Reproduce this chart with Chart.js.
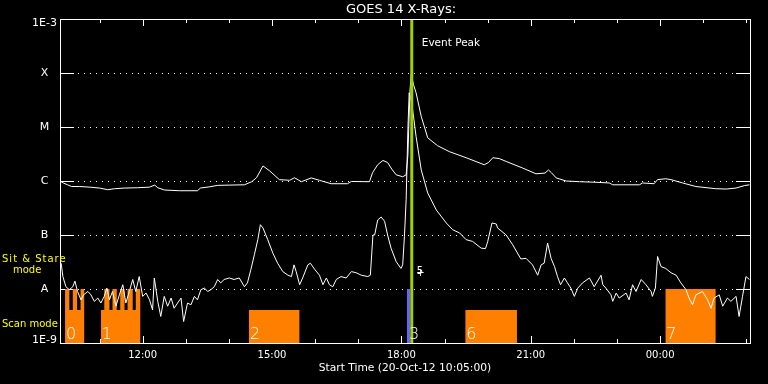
<!DOCTYPE html>
<html><head><meta charset="utf-8">
<script src="https://cdn.jsdelivr.net/npm/chart.js@4.4.1/dist/chart.umd.min.js"></script>
<style>html,body{margin:0;padding:0;background:#000;overflow:hidden}#wrap{width:768px;height:384px;position:relative}</style>
</head><body><div id="wrap"><canvas id="c" width="768" height="384"></canvas></div>
<script>
// ---- data (time in decimal hours from 20-Oct-12 00:00; >24 = next day) ----
const startHour = 10 + 5/60;
const endHour = 26 + 5/60;

const upperTimes = [10.10,10.17,10.26,10.35,10.54,10.77,11.00,11.19,11.35,11.58,
  11.88,12.16,12.28,12.35,12.51,12.86,13.27,13.34,13.55,13.74,
  14.02,14.36,14.53,14.64,14.79,14.94,15.17,15.41,15.52,15.68,
  15.91,16.10,16.37,16.75,16.84,17.26,17.33,17.45,17.57,17.68,
  17.79,17.88,18.03,18.11,18.15,18.20,18.23,18.28,18.34,18.46,18.61,
  18.84,19.11,19.50,19.92,20.02,20.12,20.27,20.43,20.81,21.12,
  21.33,21.41,21.48,21.59,21.82,22.13,22.47,22.82,22.90,23.52,
  23.59,23.86,23.94,24.13,24.25,24.52,24.83,25.29,25.53,25.76,
  25.95,26.07];
const upperFlux = [9.8e-7,9.1e-7,8.5e-7,7.9e-7,7.9e-7,7.7e-7,7.4e-7,6.9e-7,7.2e-7,7.4e-7,
  7.5e-7,7.7e-7,8.4e-7,7.5e-7,6.8e-7,6.6e-7,6.6e-7,7.4e-7,7.8e-7,8.3e-7,
  8.4e-7,8.5e-7,9.7e-7,1.15e-6,1.9e-6,1.55e-6,1.06e-6,1.03e-6,1.15e-6,9.7e-7,
  1.14e-6,1.03e-6,8.9e-7,8.9e-7,9.8e-7,9.7e-7,1.42e-6,2.0e-6,2.4e-6,2.2e-6,
  1.6e-6,1.3e-6,1.2e-6,1.3e-6,3.0e-6,5.0e-5,9.3e-5,6.1e-5,4.3e-5,1.57e-5,6.3e-6,
  4.5e-6,3.5e-6,2.7e-6,2.0e-6,2.2e-6,2.7e-6,2.6e-6,2.3e-6,1.74e-6,1.36e-6,
  1.4e-6,1.6e-6,1.42e-6,1.14e-6,1.0e-6,9.7e-7,9.5e-7,9.2e-7,8.5e-7,8.5e-7,
  9.2e-7,8.9e-7,1.06e-6,1.1e-6,1.06e-6,9.2e-7,7.9e-7,7.2e-7,7.1e-7,7.4e-7,
  8.2e-7,8.5e-7];

const lowerTimes = [10.11,10.15,10.22,10.30,10.38,10.43,10.49,10.57,10.63,10.73,
  10.80,10.88,10.96,11.03,11.11,11.17,11.23,11.30,11.38,11.46,
  11.54,11.61,11.69,11.77,11.84,11.92,12.00,12.08,12.16,12.23,
  12.27,12.35,12.42,12.50,12.58,12.66,12.73,12.81,12.89,12.95,
  13.04,13.12,13.20,13.27,13.35,13.43,13.51,13.58,13.66,13.74,
  13.81,13.89,14.01,14.12,14.24,14.36,14.43,14.51,14.59,14.67,
  14.73,14.79,14.90,15.02,15.13,15.25,15.37,15.45,15.51,15.56,
  15.64,15.71,15.83,15.89,15.99,16.10,16.18,16.26,16.33,16.41,
  16.49,16.60,16.72,16.84,16.95,17.07,17.22,17.28,17.34,17.38,
  17.45,17.53,17.61,17.68,17.76,17.88,17.99,18.03,18.07,18.11,
  18.15,18.18,18.24,18.34,18.46,18.61,18.81,19.04,19.19,19.35,
  19.50,19.65,19.85,19.95,20.00,20.10,20.20,20.23,20.43,20.58,
  20.77,20.89,21.04,21.16,21.24,21.31,21.39,21.47,21.55,21.62,
  21.69,21.78,21.85,21.93,22.01,22.09,22.20,22.36,22.47,22.63,
  22.67,22.74,22.86,22.90,22.98,23.05,23.21,23.28,23.36,23.44,
  23.56,23.67,23.79,23.82,23.89,23.94,24.02,24.13,24.25,24.37,
  24.48,24.60,24.67,24.75,24.83,24.98,25.10,25.18,25.25,25.37,
  25.45,25.56,25.64,25.76,25.83,25.91,25.99,26.07];
const lowerFlux = [3.0e-8,1.7e-8,1.1e-8,9.7e-9,1.1e-8,1.4e-8,9.0e-9,6.3e-9,7.8e-9,9.0e-9,
  7.8e-9,5.9e-9,6.8e-9,5.5e-9,7.3e-9,1.04e-8,6.3e-9,9.0e-9,4.8e-9,7.8e-9,
  1.2e-8,5.5e-9,9.0e-9,1.5e-8,9.0e-9,1.7e-8,7.3e-9,8.4e-9,6.3e-9,4.1e-9,
  1.6e-8,5.9e-9,3.1e-9,7.3e-9,4.8e-9,6.8e-9,4.4e-9,5.5e-9,6.8e-9,2.5e-9,
  5.5e-9,5.1e-9,7.3e-9,6.3e-9,9.7e-9,1.04e-8,9.0e-9,9.7e-9,1.1e-8,1.5e-8,
  1.3e-8,1.5e-8,1.6e-8,1.5e-8,1.6e-8,1.1e-8,1.3e-8,2.3e-8,4.3e-8,8.2e-8,
  1.55e-7,1.35e-7,8.2e-8,4.6e-8,3.0e-8,2.1e-8,1.8e-8,1.7e-8,2.8e-8,2.1e-8,
  1.2e-8,1.6e-8,2.8e-8,3.0e-8,2.3e-8,1.8e-8,1.2e-8,1.6e-8,1.2e-8,1.1e-8,
  1.5e-8,1.7e-8,1.6e-8,2.1e-8,2.0e-8,1.8e-8,1.7e-8,1.8e-8,1.0e-7,1.0e-7,
  1.9e-7,2.15e-7,1.8e-7,1.0e-7,5.7e-8,3.2e-8,2.4e-8,2.8e-8,9.4e-8,4.5e-7,
  8.9e-6,4.3e-5,2.8e-5,6.7e-6,1.6e-6,6.0e-7,2.9e-7,1.67e-7,1.25e-7,1.09e-7,
  8.2e-8,7.6e-8,5.7e-8,5.6e-8,7.5e-8,1.67e-7,1.6e-7,1.35e-7,1.0e-7,6.6e-8,
  3.6e-8,3.7e-8,2.8e-8,1.8e-8,2.8e-8,3.0e-8,7.1e-8,3.7e-8,2.6e-8,1.7e-8,
  1.2e-8,1.6e-8,1.3e-8,1.04e-8,7.3e-9,1.04e-8,1.3e-8,1.6e-8,1.1e-8,1.8e-8,
  1.2e-8,1.04e-8,7.8e-9,5.9e-9,8.4e-9,6.8e-9,8.4e-9,6.3e-9,1.2e-8,9.0e-9,
  1.5e-8,1.2e-8,9.0e-9,7.3e-9,1.04e-8,4.0e-8,2.6e-8,2.4e-8,2.0e-8,1.8e-8,
  1.3e-8,9.7e-9,6.8e-9,5.1e-9,7.8e-9,9.0e-9,6.3e-9,4.4e-9,6.8e-9,7.8e-9,
  4.8e-9,6.8e-9,5.9e-9,7.3e-9,3.1e-9,7.3e-9,1.7e-8,1.5e-8];

// observing-mode segments (S = sit & stare, C = scan)
const modeStart = [10.20,10.30,10.38,10.48,10.56, 11.03,11.11,11.23,11.30,11.40,11.48,11.58,11.65,11.77,11.84, 14.46, 19.48, 24.12];
const modeEnd   = [10.30,10.38,10.48,10.56,10.65, 11.11,11.23,11.30,11.40,11.48,11.58,11.65,11.77,11.84,11.95, 15.64, 20.68, 25.29];
const modeKind  = ['S','C','S','C','S', 'C','S','C','S','C','S','C','S','C','S', 'C', 'C', 'S'];
const stareStart = [18.13];
const stareEnd   = [18.20];
const stareKind  = ['S'];
const MODE_LEVEL = { S: 1e-8, C: 4.1e-9 };

const blockLabels = ['0','1','2','3','6','7'];
const blockLabelTimes = [10.20, 11.03, 14.46, 18.15, 19.48, 24.12];

const peakHour = 18.24;
const markerFlux = 2.1e-8;

const yTickValues = [1e-9,1e-8,1e-7,1e-6,1e-5,1e-4,1e-3];
const yTickLabels = ['1E-9','A','B','C','M','X','1E-3'];
const xMinorHours = [11,12,13,14,15,16,17,18,19,20,21,22,23,24,25,26];
const xMajorHours = [12,15,18,21,24];
const xTickLabels = ['12:00','15:00','18:00','21:00','00:00'];
const titleText = 'GOES 14 X-Rays:';
const xTitleText = 'Start Time (20-Oct-12 10:05:00)';

// ---- helpers ----
const pts = (ts, vs) => ts.map((t,i)=>({x:t, y:vs[i]}));
// contiguous segments -> one outline (with vertical steps) per block
function modeGroups(starts, ends, kinds){
  const groups=[]; let cur=null;
  for(let i=0;i<starts.length;i++){
    const lvl=MODE_LEVEL[kinds[i]];
    if(!cur || Math.abs(starts[i]-ends[i-1])>1e-6){ cur=[]; groups.push(cur); }
    cur.push({x:starts[i],y:lvl}); cur.push({x:ends[i],y:lvl});
  }
  return groups;
}
function blockDatasets(starts, ends, kinds, color, order){
  return modeGroups(starts,ends,kinds).map(g=>({data:g,fill:'start',backgroundColor:color,borderWidth:0,pointRadius:0,tension:0,order:order}));
}
const FONT='"DejaVu Sans", sans-serif';
function txt(ctx,s,x,y,size,color,align,base,ls,weight){
  ctx.save();
  ctx.font=(weight||'normal')+' '+size+'px '+FONT;
  ctx.fillStyle=color; ctx.textAlign=align||'center'; ctx.textBaseline=base||'middle';
  if(ls) ctx.letterSpacing=ls+'px';
  ctx.fillText(s,x,y);
  ctx.restore();
}

const goesPlugin={
  id:'goes',
  beforeDraw(chart){const c=chart.ctx;c.save();c.fillStyle='#000';c.fillRect(0,0,chart.width,chart.height);c.restore();},
  beforeDatasetsDraw(chart){
    const {ctx,chartArea:a,scales:{x,y}}=chart;
    ctx.save(); ctx.strokeStyle='#fff'; ctx.lineWidth=1;
    yTickValues.forEach((v,i)=>{
      const py=Math.round(y.getPixelForValue(v))+0.5;
      ctx.setLineDash([]);
      ctx.beginPath(); ctx.moveTo(a.left,py); ctx.lineTo(a.left+14,py);
      ctx.moveTo(a.right-14,py); ctx.lineTo(a.right,py); ctx.stroke();
      if(i>0 && i<yTickValues.length-1){
        ctx.setLineDash([1,5]);
        ctx.beginPath(); ctx.moveTo(a.left+18,py); ctx.lineTo(a.right-14,py); ctx.stroke();
      }
    });
    ctx.setLineDash([]);
    xMinorHours.forEach(h=>{
      const px=Math.round(x.getPixelForValue(h))+0.5;
      const len=xMajorHours.includes(h)?7:4;
      ctx.beginPath(); ctx.moveTo(px,a.top); ctx.lineTo(px,a.top+len);
      ctx.moveTo(px,a.bottom); ctx.lineTo(px,a.bottom-len); ctx.stroke();
    });
    ctx.restore();
  },
  afterDatasetsDraw(chart){
    const {ctx,chartArea:a,scales:{x,y}}=chart;
    ctx.save(); ctx.strokeStyle='#fff'; ctx.lineWidth=1;
    ctx.strokeRect(a.left+0.5,a.top+0.5,a.right-a.left,a.bottom-a.top);
    ctx.restore();
    txt(ctx,titleText,(a.left+a.right)/2-4,9.5,13,'#fff');
    yTickValues.forEach((v,i)=>{
      let py=y.getPixelForValue(v)+0.5;
      if(i===0) py-=3.5; if(i===yTickValues.length-1) py+=3.5;
      txt(ctx,yTickLabels[i],44.5,py,11,'#fff');
    });
    xMajorHours.forEach((h,i)=>txt(ctx,xTickLabels[i],x.getPixelForValue(h),355,10,'#fff'));
    txt(ctx,xTitleText,(a.left+a.right)/2,368,10.7,'#fff');
    const sy=y.getPixelForValue(MODE_LEVEL.S);
    txt(ctx,'Sit & Stare',2,sy-30,10,'#ffff00','left','middle',1);
    txt(ctx,'mode',13,sy-18.5,10,'#ffff00','left','middle',0);
    const cy=(y.getPixelForValue(MODE_LEVEL.C)+a.bottom)/2;
    txt(ctx,'Scan mode',2,cy-2.5,10,'#ffff00','left','middle',0);
    blockLabels.forEach((s,i)=>txt(ctx,s,x.getPixelForValue(blockLabelTimes[i])+1,a.bottom-4.5,16,'#fff','left','alphabetic',0,'200'));
    const px=x.getPixelForValue(peakHour);
    txt(ctx,'Event Peak',px+10,43,10.5,'#fff','left');
    const my=y.getPixelForValue(markerFlux);
    txt(ctx,'5',px+5,my,10,'#fff','left');
    txt(ctx,'+',px+4.5,my+2,10,'#fff','left');
  }
};

new Chart(document.getElementById('c'),{
  type:'line',
  data:{datasets:[
    {label:'peak',data:[{x:peakHour,y:1e-9},{x:peakHour,y:1e-3}],borderColor:'#9fd000',borderWidth:3,pointRadius:0,order:0},
    {label:'long',data:pts(upperTimes,upperFlux),borderColor:'#fff',borderWidth:1,pointRadius:0,tension:0,order:1},
    {label:'short',data:pts(lowerTimes,lowerFlux),borderColor:'#fff',borderWidth:1,pointRadius:0,tension:0,order:2},
    ...blockDatasets(stareStart,stareEnd,stareKind,'#6464ff',3),
    ...blockDatasets(modeStart,modeEnd,modeKind,'#ff8000',4)
  ]},
  options:{
    responsive:false,animation:false,devicePixelRatio:1,events:[],
    layout:{padding:{left:60,top:19,right:18,bottom:41}},
    plugins:{legend:{display:false},tooltip:{enabled:false},title:{display:false}},
    scales:{
      x:{type:'linear',min:startHour,max:endHour,display:false},
      y:{type:'logarithmic',min:1e-9,max:1e-3,display:false}
    }
  },
  plugins:[goesPlugin]
});
</script></body></html>
